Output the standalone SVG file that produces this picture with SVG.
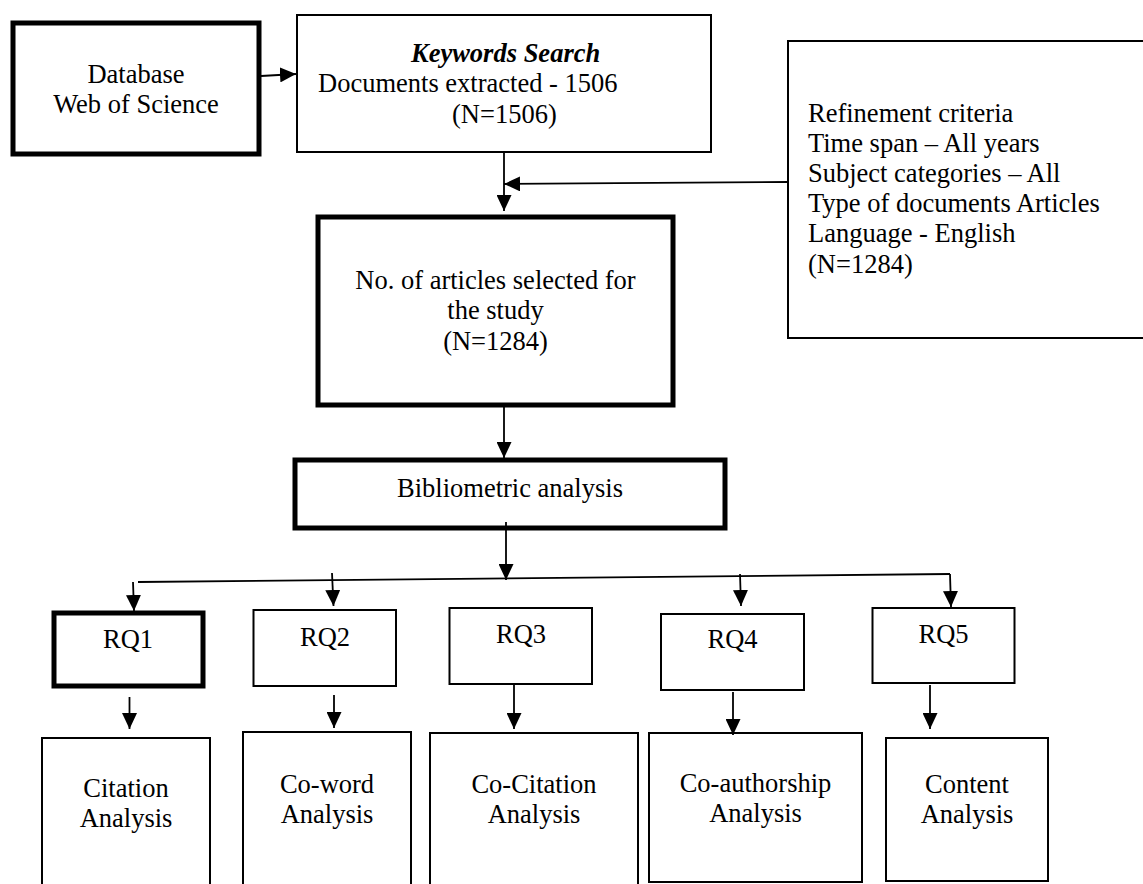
<svg xmlns="http://www.w3.org/2000/svg" width="1143" height="884" viewBox="0 0 1143 884">
<defs>
<marker id="ah" markerUnits="userSpaceOnUse" markerWidth="16" markerHeight="15" refX="16" refY="7.5" orient="auto">
<path d="M0,0 L16,7.5 L0,15 z" fill="#000"/>
</marker>
<style>
.t{font-family:"Liberation Serif","Times New Roman",serif;font-size:26.5px;fill:#000}
.m{text-anchor:middle}
.b{fill:#fff;stroke:#000;stroke-width:2}
.k{fill:#fff;stroke:#000;stroke-width:5}
.c{fill:none;stroke:#000;stroke-width:1.8}
.a{marker-end:url(#ah)}
</style>
</defs>
<rect width="1143" height="884" fill="#fff"/>

<g id="database">
<rect class="k" x="13" y="23" width="246" height="131"/>
<text class="t m" x="136" y="83">Database</text>
<text class="t m" x="136" y="113">Web of Science</text>
</g>

<g id="keywords">
<rect class="b" x="297" y="15" width="414" height="137"/>
<text class="t" x="411" y="62" font-weight="bold" font-style="italic">Keywords Search</text>
<text class="t" x="318" y="92">Documents extracted - 1506</text>
<text class="t" x="452" y="123">(N=1506)</text>
</g>

<g id="refinement">
<rect class="b" x="788" y="41" width="400" height="297"/>
<text class="t" x="808" y="122">Refinement criteria</text>
<text class="t" x="808" y="152">Time span – All years</text>
<text class="t" x="808" y="182">Subject categories – All</text>
<text class="t" x="808" y="212">Type of documents Articles</text>
<text class="t" x="808" y="242">Language - English</text>
<text class="t" x="808" y="273">(N=1284)</text>
</g>

<g id="selected">
<rect class="k" x="318" y="217" width="355" height="188"/>
<text class="t m" x="495.5" y="289">No. of articles selected for</text>
<text class="t m" x="495.5" y="319">the study</text>
<text class="t m" x="495.5" y="350">(N=1284)</text>
</g>

<g id="bibliometric">
<rect class="k" x="295" y="460" width="430" height="68"/>
<text class="t m" x="510" y="497">Bibliometric analysis</text>
</g>

<g id="rq1">
<rect class="k" x="54" y="613" width="149" height="73"/>
<text class="t m" x="128" y="648">RQ1</text>
</g>
<g id="rq2">
<rect class="b" x="253.5" y="610" width="142.5" height="76"/>
<text class="t m" x="325" y="646">RQ2</text>
</g>
<g id="rq3">
<rect class="b" x="449.5" y="608" width="142.5" height="76"/>
<text class="t m" x="521" y="643">RQ3</text>
</g>
<g id="rq4">
<rect class="b" x="661" y="614" width="143" height="76"/>
<text class="t m" x="732.5" y="648">RQ4</text>
</g>
<g id="rq5">
<rect class="b" x="872.5" y="608" width="142" height="75"/>
<text class="t m" x="943.5" y="643">RQ5</text>
</g>

<g id="citation">
<rect class="b" x="42" y="738" width="168" height="200"/>
<text class="t m" x="126" y="797">Citation</text>
<text class="t m" x="126" y="827">Analysis</text>
</g>
<g id="coword">
<rect class="b" x="243" y="732" width="168" height="200"/>
<text class="t m" x="327" y="793">Co-word</text>
<text class="t m" x="327" y="823">Analysis</text>
</g>
<g id="cocitation">
<rect class="b" x="430" y="733" width="208" height="200"/>
<text class="t m" x="534" y="793">Co-Citation</text>
<text class="t m" x="534" y="823">Analysis</text>
</g>
<g id="coauthorship">
<rect class="b" x="649" y="733" width="213" height="149"/>
<text class="t m" x="755.5" y="792">Co-authorship</text>
<text class="t m" x="755.5" y="822">Analysis</text>
</g>
<g id="content">
<rect class="b" x="886" y="738" width="162" height="143"/>
<text class="t m" x="967" y="793">Content</text>
<text class="t m" x="967" y="823">Analysis</text>
</g>

<g id="connectors">
<path class="c a" d="M261,76 L296,74"/>
<path class="c a" d="M504,152 L504,211"/>
<path class="c a" d="M788,182 L504,184"/>
<path class="c a" d="M504,407 L504,458"/>
<path class="c a" d="M506,522 L506,580"/>
<path class="c" d="M138,582 L950,574"/>
<path class="c a" d="M133,582 L134,611"/>
<path class="c a" d="M332,573 L333.5,606"/>
<path class="c a" d="M740,574 L741,606"/>
<path class="c a" d="M950,574 L951,607"/>
<path class="c a" d="M129.5,697 L129.5,729"/>
<path class="c a" d="M334,695 L334,728"/>
<path class="c a" d="M514,685 L514,729"/>
<path class="c a" d="M733,692 L733,735"/>
<path class="c a" d="M930,685 L930,729"/>
</g>
</svg>
